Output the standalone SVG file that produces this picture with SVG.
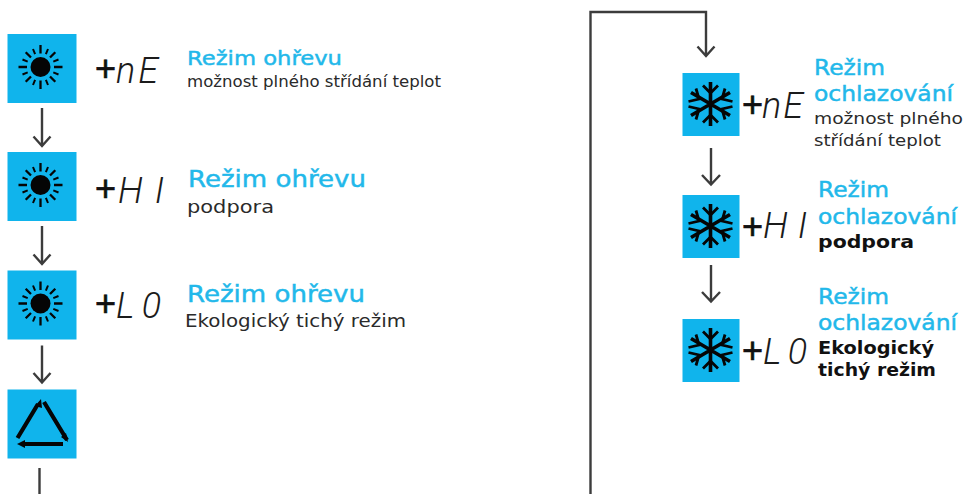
<svg xmlns="http://www.w3.org/2000/svg" xmlns:xlink="http://www.w3.org/1999/xlink" width="967" height="494" viewBox="0 0 967 494">
<style>
.sq{fill:#10b4ec}
.ic{stroke:#050505;fill:none;stroke-linecap:butt}
.con{stroke:#3c3c3c;stroke-width:2.4;fill:none}
.h{font-family:"DejaVu Sans",sans-serif;fill:#22b8ea;stroke:#22b8ea;stroke-width:.45}
.t{font-family:"DejaVu Sans",sans-serif;fill:#2a2a2a}
.b{font-family:"DejaVu Sans",sans-serif;fill:#111;font-weight:700}
.plus{font-family:"Liberation Sans",sans-serif;fill:#111;stroke:#111;stroke-width:.7;font-size:36px}
.seg{font-family:"Roboto",sans-serif;font-style:italic;fill:#1b1b1b;font-size:36px;font-weight:300}
</style>
<defs>
<g id="sun">
<rect class="sq" x="0" y="0" width="69" height="69"/>
<circle cx="33" cy="33" r="10" fill="#050505"/>
<g class="ic" stroke-width="2.300">
<path d="M33 11V19.500M33 46.500V55M11 33H19.500M46.500 33H55M18.200 18.200L23.500 23.500M42.500 42.500L47.800 47.800M18.200 47.800L23.500 42.500M42.500 23.500L47.800 18.200"/>
<path d="M25.500 15L27.600 20.200M38.400 45.800L40.500 51M25.500 51L27.600 45.800M38.400 20.200L40.500 15M15 25.500L20.200 27.600M45.800 38.400L51 40.500M15 40.500L20.200 38.400M45.800 27.600L51 25.500" stroke-width="2"/>
</g>
</g>
<g id="flake">
<rect class="sq" x="0" y="0" width="57" height="63"/>
<g class="ic" stroke-width="3.600">
<path d="M28 9V53M8.500 19.500L47.500 42.500M8.500 42.500L47.500 19.500"/>
<path d="M20.500 12.500L28 20L35.500 12.500M20.500 49.500L28 42L35.500 49.500M6 28.500L16.500 26L13.500 15.500M50 28.500L39.500 26L42.500 15.500M6 33.500L16.500 36L13.500 46.500M50 33.500L39.500 36L42.500 46.500" stroke-width="2.800"/>
</g>
</g>
</defs>

<g id="connectors">
<path class="con" d="M42 108V146M33.500 136.500L42 146L50.500 136.500"/>
<path class="con" d="M42 226V264M33.500 254.500L42 264L50.500 254.500"/>
<path class="con" d="M42 345.500V382.500M33.500 373L42 382.500L50.500 373"/>
<path class="con" d="M39.500 468V494"/>
<path class="con" d="M590.500 494V12H706V56M697.500 46.500L706 56L714.500 46.500"/>
<path class="con" d="M711 148V184.500M702 175L711 184.500L720 175"/>
<path class="con" d="M711 265V301.500M702 292L711 301.500L720 292"/>
</g>

<g id="node-heat-ne">
<use xlink:href="#sun" x="7.500" y="34"/>
<text class="plus" x="95" y="81">+</text>
<text class="seg" x="116" y="83" textLength="42" lengthAdjust="spacing">nE</text>
<text class="h" x="187" y="65" font-size="20" textLength="155" lengthAdjust="spacingAndGlyphs">Režim ohřevu</text>
<text class="t" x="187" y="87" font-size="15" textLength="254" lengthAdjust="spacingAndGlyphs">možnost plného střídání teplot</text>
</g>
<g id="node-heat-hi">
<use xlink:href="#sun" x="7.500" y="152"/>
<text class="plus" x="95" y="201">+</text>
<text class="seg" x="118" y="203" textLength="46" lengthAdjust="spacing">H I</text>
<text class="h" x="188" y="187" font-size="23" textLength="178" lengthAdjust="spacingAndGlyphs">Režim ohřevu</text>
<text class="t" x="187" y="213" font-size="17.500" textLength="87" lengthAdjust="spacingAndGlyphs">podpora</text>
</g>
<g id="node-heat-lo">
<use xlink:href="#sun" x="7.500" y="270.500"/>
<text class="plus" x="95" y="316">+</text>
<text class="seg" x="116" y="318" textLength="45" lengthAdjust="spacing">L 0</text>
<text class="h" x="187" y="302" font-size="23" textLength="178" lengthAdjust="spacingAndGlyphs">Režim ohřevu</text>
<text class="t" x="185" y="327" font-size="17.500" textLength="221" lengthAdjust="spacingAndGlyphs">Ekologický tichý režim</text>
</g>
<g id="node-auto">
<rect class="sq" x="7.500" y="389.500" width="69" height="69"/>
<path d="M17.500 438L38 404M44 402L67 440M63 444H22" fill="none" stroke="#050505" stroke-width="4.200"/>
<path d="M41 399L35 406L42 408ZM17 444L25 440V448ZM68 442L61 437L66 433Z" fill="#050505"/>
</g>

<g id="node-cool-ne">
<use xlink:href="#flake" x="682.500" y="73"/>
<text class="plus" x="742" y="117">+</text>
<text class="seg" x="762" y="118" textLength="41" lengthAdjust="spacing">nE</text>
<text class="h" x="814" y="75" font-size="20.500" textLength="71" lengthAdjust="spacingAndGlyphs">Režim</text>
<text class="h" x="814" y="101" font-size="20.500" textLength="139" lengthAdjust="spacingAndGlyphs">ochlazování</text>
<text class="t" x="814" y="124" font-size="16.500" textLength="149" lengthAdjust="spacingAndGlyphs">možnost plného</text>
<text class="t" x="814" y="146" font-size="16.500" textLength="127" lengthAdjust="spacingAndGlyphs">střídání teplot</text>
</g>
<g id="node-cool-hi">
<use xlink:href="#flake" x="682.500" y="195"/>
<text class="plus" x="742" y="239">+</text>
<text class="seg" x="763" y="238" textLength="44" lengthAdjust="spacing">H I</text>
<text class="h" x="818" y="197" font-size="20.500" textLength="71" lengthAdjust="spacingAndGlyphs">Režim</text>
<text class="h" x="818" y="224" font-size="20.500" textLength="139" lengthAdjust="spacingAndGlyphs">ochlazování</text>
<text class="b" x="818" y="248" font-size="18" textLength="96" lengthAdjust="spacingAndGlyphs">podpora</text>
</g>
<g id="node-cool-lo">
<use xlink:href="#flake" x="682.500" y="319"/>
<text class="plus" x="742" y="363">+</text>
<text class="seg" x="763" y="364" textLength="44" lengthAdjust="spacing">L 0</text>
<text class="h" x="818" y="304" font-size="20.500" textLength="71" lengthAdjust="spacingAndGlyphs">Režim</text>
<text class="h" x="818" y="330" font-size="20.500" textLength="139" lengthAdjust="spacingAndGlyphs">ochlazování</text>
<text class="b" x="818" y="354" font-size="18" textLength="116" lengthAdjust="spacingAndGlyphs">Ekologický</text>
<text class="b" x="818" y="376" font-size="18" textLength="118" lengthAdjust="spacingAndGlyphs">tichý režim</text>
</g>
</svg>
